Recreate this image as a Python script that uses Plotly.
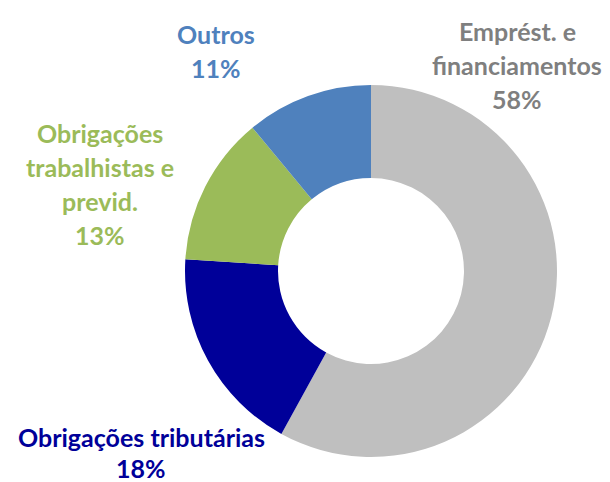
import plotly.graph_objects as go

labels = ["Emprést. e\nfinanciamentos", "Obrigações tributárias", "Obrigações\ntrabalhistas e\nprevid.", "Outros"]
values = [58, 18, 13, 11]
pct_labels = ["58%", "18%", "13%", "11%"]
slice_colors = ["#BFBFBF", "#000099", "#9BBB59", "#4F81BD"]
text_colors = ["#7F7F7F", "#000099", "#9BBB59", "#4F81BD"]

W, H = 610, 482
fig = go.Figure(go.Pie(
    labels=[l.replace("\n", " ") for l in labels],
    values=values,
    hole=0.5,
    sort=False,
    direction="clockwise",
    rotation=0,
    marker=dict(colors=slice_colors, line=dict(width=0)),
    textinfo="none",
    hoverinfo="label+percent",
    domain=dict(x=[185 / W, 557 / W], y=[(H - 457) / H, (H - 85) / H]),
    showlegend=False,
))

# label block layout: (center x px, first-line y px, line height px)
label_pos = [(517, 31, 34), (141, 437, 31), (100, 133, 34), (216, 34, 34)]
anns = []
for lab, pct, col, (cx, y0, lh) in zip(labels, pct_labels, text_colors, label_pos):
    lines = lab.split("\n") + [pct]
    for i, ln in enumerate(lines):
        y = y0 + i * lh
        anns.append(dict(
            text="<b>" + ln + "</b>", x=cx / W, y=1 - y / H, xref="paper", yref="paper",
            xanchor="center", yanchor="middle", showarrow=False,
            font=dict(family="Lato", size=25, color=col),
        ))

fig.update_layout(
    width=W, height=H, margin=dict(l=0, r=0, t=0, b=0),
    paper_bgcolor="white", plot_bgcolor="white",
    annotations=anns,
)
fig.write_html("out.html", config={"displayModeBar": False},
               post_script="document.body.style.margin='0';")
